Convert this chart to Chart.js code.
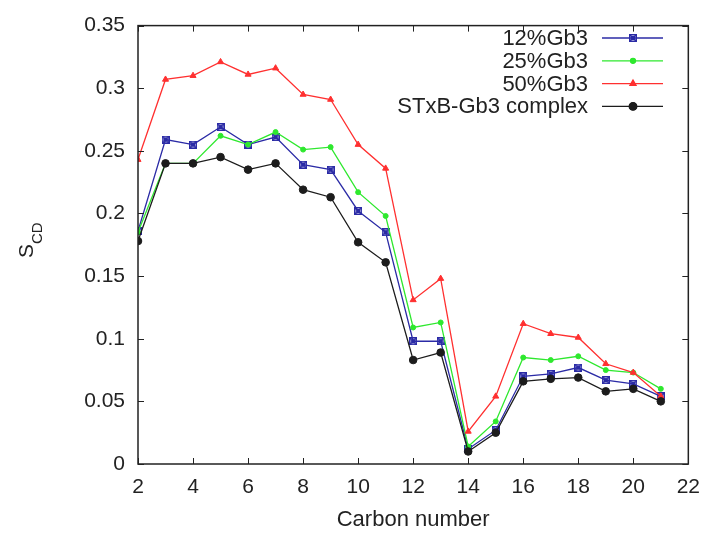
<!DOCTYPE html>
<html lang="en">
<head>
<meta charset="utf-8">
<title>SCD vs carbon number</title>
<script src="https://cdn.jsdelivr.net/npm/chart.js"></script>
<style>
  html, body { margin: 0; padding: 0; background: #fff; }
  #wrap { width: 711px; height: 533px; }
</style>
</head>
<body>
<div id="wrap"><canvas id="grafico"></canvas></div>
<script>
// carbon positions along the chain
const carbons = [2, 3, 4, 5, 6, 7, 8, 9, 10, 11, 12, 13, 14, 15, 16, 17, 18, 19, 20, 21];

const gb3_12 = [0.186, 0.259, 0.255, 0.269, 0.255, 0.261, 0.239, 0.235, 0.202, 0.185,
                0.098, 0.098, 0.012, 0.027, 0.070, 0.072, 0.077, 0.067, 0.064, 0.054];
const gb3_25 = [0.185, 0.240, 0.240, 0.262, 0.255, 0.265, 0.251, 0.253, 0.217, 0.198,
                0.109, 0.113, 0.014, 0.034, 0.085, 0.083, 0.086, 0.075, 0.073, 0.060];
const gb3_50 = [0.243, 0.307, 0.310, 0.321, 0.311, 0.316, 0.295, 0.291, 0.255, 0.236,
                0.131, 0.148, 0.026, 0.054, 0.112, 0.104, 0.101, 0.080, 0.073, 0.054];
const complexo = [0.178, 0.240, 0.240, 0.245, 0.235, 0.240, 0.219, 0.213, 0.177, 0.161,
                  0.083, 0.089, 0.010, 0.025, 0.066, 0.068, 0.069, 0.058, 0.060, 0.050];

const xTicks = [2, 4, 6, 8, 10, 12, 14, 16, 18, 20, 22];
const yTicks = [0, 0.05, 0.1, 0.15, 0.2, 0.25, 0.3, 0.35];

const FONT = '"Liberation Sans", Arial, sans-serif';

// boxed-x marker like gnuplot's point type
function marcadorCaixa(cor) {
    const c = document.createElement('canvas');
    c.width = 8; c.height = 8;
    const g = c.getContext('2d');
    g.strokeStyle = cor;
    g.fillStyle = cor;
    g.lineWidth = 1.5;
    g.fillRect(2, 2, 4, 4);
    g.strokeRect(0.75, 0.75, 6.5, 6.5);
    g.beginPath();
    g.moveTo(0.5, 0.5); g.lineTo(7.5, 7.5);
    g.moveTo(7.5, 0.5); g.lineTo(0.5, 7.5);
    g.stroke();
    return c;
}

function pontos(vals) {
    return carbons.map((c, i) => ({ x: c, y: vals[i] }));
}

function serie(label, vals, cor, estilo, raio, ordem) {
    return {
        label: label,
        data: pontos(vals),
        borderColor: cor,
        backgroundColor: cor,
        borderWidth: 1.3,
        pointStyle: estilo,
        pointRadius: raio,
        pointBorderWidth: 1,
        tension: 0,
        order: ordem
    };
}

// frame, inward ticks, gnuplot-like legend and axis titles
const molduraPlugin = {
    id: 'moldura',
    afterDatasetsDraw(chart) {
        const ctx = chart.ctx;
        const a = chart.chartArea;
        const xs = chart.scales.x, ys = chart.scales.y;
        ctx.save();
        ctx.strokeStyle = '#222';
        ctx.lineWidth = 1.5;
        ctx.strokeRect(a.left, a.top, a.right - a.left, a.bottom - a.top);
        ctx.lineWidth = 1;
        const t = 6;
        ctx.beginPath();
        xTicks.forEach(v => {
            const px = Math.round(xs.getPixelForValue(v)) + 0.5;
            ctx.moveTo(px, a.bottom); ctx.lineTo(px, a.bottom - t);
            ctx.moveTo(px, a.top); ctx.lineTo(px, a.top + t);
        });
        yTicks.forEach(v => {
            const py = Math.round(ys.getPixelForValue(v)) + 0.5;
            ctx.moveTo(a.left, py); ctx.lineTo(a.left + t, py);
            ctx.moveTo(a.right, py); ctx.lineTo(a.right - t, py);
        });
        ctx.stroke();

        // legend
        ctx.font = '22px ' + FONT;
        ctx.textAlign = 'right';
        ctx.textBaseline = 'middle';
        chart.data.datasets.forEach((ds, i) => {
            const y = 38 + i * 22.8;
            ctx.fillStyle = '#222';
            ctx.fillText(ds.label, 588, y + 1);
            ctx.strokeStyle = ds.borderColor;
            ctx.lineWidth = 1.3;
            ctx.beginPath();
            ctx.moveTo(602, y); ctx.lineTo(663, y);
            ctx.stroke();
            ctx.fillStyle = ds.backgroundColor;
            Chart.helpers.drawPoint(ctx, {
                pointStyle: ds.pointStyle, radius: ds.pointRadius, borderWidth: 1
            }, 633, y);
            if (typeof ds.pointStyle === 'string') ctx.fill();
        });

        // axis titles
        ctx.fillStyle = '#222';
        ctx.textAlign = 'center';
        ctx.textBaseline = 'middle';
        ctx.font = '22px ' + FONT;
        ctx.fillText('Carbon number', (a.left + a.right) / 2, 520);
        ctx.translate(33, 258);
        ctx.rotate(-Math.PI / 2);
        ctx.textAlign = 'left';
        ctx.textBaseline = 'alphabetic';
        ctx.font = '21px ' + FONT;
        const w = ctx.measureText('S').width;
        ctx.fillText('S', 0, 0);
        ctx.font = '15px ' + FONT;
        ctx.fillText('CD', w, 9);
        ctx.restore();
    }
};

new Chart(document.getElementById('grafico'), {
    type: 'line',
    data: {
        datasets: [
            serie('12%Gb3', gb3_12, '#2b2ba6', marcadorCaixa('#2b2ba6'), 4, 3),
            serie('25%Gb3', gb3_25, '#2ee82e', 'circle', 2.5, 2),
            serie('50%Gb3', gb3_50, '#ff3030', 'triangle', 3.5, 1),
            serie('STxB-Gb3 complex', complexo, '#1c1c1c', 'circle', 3.8, 0)
        ]
    },
    options: {
        responsive: true,
        maintainAspectRatio: false,
        animation: false,
        layout: { padding: { top: 20, right: 22, left: 0, bottom: 0 } },
        plugins: {
            legend: { display: false },
            tooltip: { enabled: false }
        },
        scales: {
            x: {
                type: 'linear',
                min: 2,
                max: 22,
                afterBuildTicks: s => { s.ticks = xTicks.map(v => ({ value: v })); },
                afterFit: s => { s.height = 69; },
                grid: { display: false, drawTicks: false },
                border: { display: false },
                ticks: {
                    padding: 11,
                    color: '#222',
                    font: { family: FONT, size: 21 }
                }
            },
            y: {
                min: 0,
                max: 0.35,
                afterBuildTicks: s => { s.ticks = yTicks.map(v => ({ value: v })); },
                afterFit: s => { s.width = 138; },
                grid: { display: false, drawTicks: false },
                border: { display: false },
                ticks: {
                    padding: 13,
                    color: '#222',
                    font: { family: FONT, size: 21 },
                    callback: v => String(+v.toFixed(2))
                }
            }
        }
    },
    plugins: [molduraPlugin]
});
</script>
</body>
</html>
